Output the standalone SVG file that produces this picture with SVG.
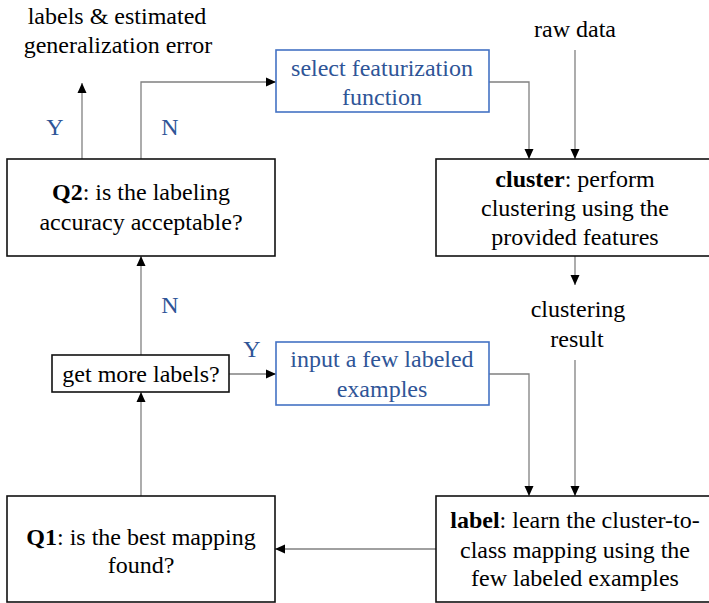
<svg xmlns="http://www.w3.org/2000/svg" width="709" height="603" viewBox="0 0 709 603">
<style>
text{font-family:"Times New Roman",Tinos,"Nimbus Roman","Nimbus Roman No9 L","Noto Serif","FreeSerif","Liberation Serif","DejaVu Serif",serif;font-size:24px;fill:#000;text-anchor:middle}
.blue{fill:#2F5597}
.box{fill:#fff;stroke:#111;stroke-width:1.6}
.bbox{fill:#fff;stroke:#4472C4;stroke-width:1.6}
.con{fill:none;stroke:#808080;stroke-width:1.3}
.b{font-weight:bold}
</style>
<defs>
<marker id="ah" viewBox="0 0 10 10" refX="10" refY="5" markerWidth="10" markerHeight="10" markerUnits="userSpaceOnUse" orient="auto">
<path d="M0,0.5 L10,5 L0,9.5 z" fill="#000"/>
</marker>
</defs>
<rect width="709" height="603" fill="#fff"/>
<g id="connectors">
<path class="con" d="M82,159 V83" marker-end="url(#ah)"/>
<path class="con" d="M141,159 V82 H276" marker-end="url(#ah)"/>
<path class="con" d="M489,82 H529 V159" marker-end="url(#ah)"/>
<path class="con" d="M575,50 V159" marker-end="url(#ah)"/>
<path class="con" d="M575,256 V285" marker-end="url(#ah)"/>
<path class="con" d="M575,360 V496" marker-end="url(#ah)"/>
<path class="con" d="M489,374 H529 V496" marker-end="url(#ah)"/>
<path class="con" d="M436,549 H275" marker-end="url(#ah)"/>
<path class="con" d="M141,496 V392" marker-end="url(#ah)"/>
<path class="con" d="M141,355 V256" marker-end="url(#ah)"/>
<path class="con" d="M229,374 H276" marker-end="url(#ah)"/>
<text class="blue" x="55" y="135">Y</text>
<text class="blue" x="170" y="135">N</text>
<text class="blue" x="170" y="313">N</text>
<text class="blue" x="252" y="357">Y</text>
</g>
<g id="output">
<text x="117" y="24">labels &amp; estimated</text>
<text x="118" y="53">generalization error</text>
</g>
<g id="q2">
<rect class="box" x="7" y="159" width="268" height="97"/>
<text x="141" y="200"><tspan class="b">Q2</tspan>: is the labeling</text>
<text x="141" y="230">accuracy acceptable?</text>
</g>
<g id="select">
<rect class="bbox" x="276" y="50" width="213" height="62"/>
<text class="blue" x="382" y="76">select featurization</text>
<text class="blue" x="382" y="105">function</text>
</g>
<g id="rawdata">
<text x="575" y="37">raw data</text>
</g>
<g id="cluster">
<rect class="box" x="436" y="159" width="280" height="97"/>
<text x="575" y="187"><tspan class="b">cluster</tspan>: perform</text>
<text x="575" y="216">clustering using the</text>
<text x="575" y="245">provided features</text>
</g>
<g id="result">
<text x="578" y="317">clustering</text>
<text x="577" y="347">result</text>
</g>
<g id="getmore">
<rect class="box" x="52" y="355" width="177" height="37"/>
<text x="141" y="382">get more labels?</text>
</g>
<g id="input">
<rect class="bbox" x="276" y="342" width="213" height="63"/>
<text class="blue" x="382" y="367">input a few labeled</text>
<text class="blue" x="382" y="397">examples</text>
</g>
<g id="q1">
<rect class="box" x="7" y="496" width="268" height="106"/>
<text x="141" y="545"><tspan class="b">Q1</tspan>: is the best mapping</text>
<text x="141" y="573">found?</text>
</g>
<g id="label">
<rect class="box" x="436" y="496" width="280" height="106"/>
<text x="575" y="528"><tspan class="b">label</tspan>: learn the cluster-to-</text>
<text x="575" y="558">class mapping using the</text>
<text x="575" y="586">few labeled examples</text>
</g>
</svg>
